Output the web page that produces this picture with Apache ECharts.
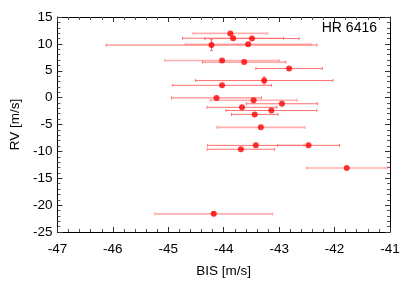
<!DOCTYPE html>
<html>
<head>
<meta charset="utf-8">
<script src="https://cdn.jsdelivr.net/npm/echarts@6/dist/echarts.min.js"></script>
<style>
html,body{margin:0;padding:0;background:#fff;}
#c{width:415px;height:283px;}
</style>
</head>
<body>
<div id="c"></div>
<script>
// Data set A (light pink error bars)
const bisA   = [-43.88, -43.56, -44.03, -43.46, -43.33, -41.78, -44.18];
const rvA    = [ 11.95,   9.91,   6.90,  -0.49,  -5.53, -13.10, -21.62];
const bisErrA= [  0.67,   1.13,   1.03,   0.78,   0.79,   0.72,   1.06];
const rvErrA = [  0,      0,      0,      0,      0,      0,      0.3 ];
// Data set B (salmon error bars)
const bisB   = [-43.83, -43.49, -44.22, -43.63, -42.82, -43.27, -44.03, -44.13, -42.95, -43.67, -43.14, -43.44, -43.42, -42.47, -43.69];
const rvB    = [ 11.05,  10.99,   9.78,   6.61,   5.41,   3.19,   2.29,  -0.05,  -1.14,  -1.80,  -2.40,  -3.12,  -8.88,  -8.88,  -9.60];
const bisErrB= [  0.91,   0.85,   1.90,   0.75,   0.60,   1.24,   0.89,   0.81,   0.64,   0.63,   0.82,   0.42,   0.87,   0.56,   0.61];
const rvErrB = [  0,      0,      1.0,    0,      0,      0.65,   0,      0,      0,      0,      0,      0,      0,      0,      0   ];
// Axis ticks
const xTicks = [-47, -46, -45, -44, -43, -42, -41];
const yTicks = [-25, -20, -15, -10, -5, 0, 5, 10, 15];
const label = 'HR 6416';

function rows(b, r, eb, er) {
  return b.map((v, i) => [v, r[i], eb[i], er[i]]);
}

function errRender(color, width) {
  return function (params, api) {
    const x = api.value(0), y = api.value(1), e = api.value(2), ey = api.value(3);
    const p1 = api.coord([x - e, y]);
    const p2 = api.coord([x + e, y]);
    const cap = 1.5;
    const style = { stroke: color, lineWidth: width };
    const ch = [
      { type: 'line', shape: { x1: p1[0], y1: p1[1], x2: p2[0], y2: p2[1] }, style },
      { type: 'line', shape: { x1: p1[0], y1: p1[1] - cap, x2: p1[0], y2: p1[1] + cap }, style },
      { type: 'line', shape: { x1: p2[0], y1: p2[1] - cap, x2: p2[0], y2: p2[1] + cap }, style }
    ];
    if (ey > 0) {
      const q1 = api.coord([x, y - ey]);
      const q2 = api.coord([x, y + ey]);
      ch.push({ type: 'line', shape: { x1: q1[0], y1: q1[1], x2: q2[0], y2: q2[1] }, style });
      ch.push({ type: 'line', shape: { x1: q1[0] - cap, y1: q1[1], x2: q1[0] + cap, y2: q1[1] }, style });
      ch.push({ type: 'line', shape: { x1: q2[0] - cap, y1: q2[1], x2: q2[0] + cap, y2: q2[1] }, style });
    }
    return { type: 'group', children: ch };
  };
}

const font = 'Liberation Sans, Arial, Helvetica, sans-serif';
const baseAxis = {
  type: 'value',
  axisLine: { show: true, onZero: false, lineStyle: { color: '#000', width: 1 } },
  axisTick: { show: true, inside: true, length: 5, lineStyle: { color: '#333' } },
  minorTick: { show: true, splitNumber: 5, length: 3, lineStyle: { color: '#555' } },
  splitLine: { show: false },
  minorSplitLine: { show: false }
};

const chart = echarts.init(document.getElementById('c'), null, { renderer: 'canvas' });
chart.setOption({
  animation: false,
  backgroundColor: '#fff',
  textStyle: { fontFamily: font },
  grid: { left: 57, right: 25, top: 17, bottom: 44.5 },
  xAxis: [
    Object.assign({}, baseAxis, {
      position: 'bottom', min: xTicks[0], max: xTicks[xTicks.length - 1], interval: 1,
      name: 'BIS [m/s]', nameLocation: 'middle', nameGap: 32,
      nameTextStyle: { fontSize: 13.5, color: '#000', fontFamily: font },
      axisLabel: { fontSize: 13.5, color: '#000', margin: 10, fontFamily: font }
    }),
    Object.assign({}, baseAxis, {
      position: 'top', min: xTicks[0], max: xTicks[xTicks.length - 1], interval: 1,
      axisLabel: { show: false }
    })
  ],
  yAxis: [
    Object.assign({}, baseAxis, {
      position: 'left', min: yTicks[0], max: yTicks[yTicks.length - 1], interval: 5,
      name: 'RV [m/s]', nameLocation: 'middle', nameGap: 35, nameRotate: 90,
      nameTextStyle: { fontSize: 13.5, color: '#000', fontFamily: font },
      axisLabel: { fontSize: 13.5, color: '#000', margin: 5, fontFamily: font }
    }),
    Object.assign({}, baseAxis, {
      position: 'right', min: yTicks[0], max: yTicks[yTicks.length - 1], interval: 5,
      axisLabel: { show: false }
    })
  ],
  graphic: [{
    type: 'text', right: 38, top: 21,
    style: { text: label, fontSize: 14, fill: '#000', fontFamily: font }
  }],
  series: [
    { type: 'custom', xAxisIndex: 0, yAxisIndex: 0, data: rows(bisA, rvA, bisErrA, rvErrA),
      renderItem: errRender('#ffb0b0', 1.6), z: 2 },
    { type: 'custom', xAxisIndex: 0, yAxisIndex: 0, data: rows(bisB, rvB, bisErrB, rvErrB),
      renderItem: errRender('#ff7070', 1), z: 3 },
    { type: 'scatter', xAxisIndex: 0, yAxisIndex: 0, symbol: 'circle', symbolSize: 6,
      itemStyle: { color: '#ff0000' }, z: 5,
      data: bisA.map((v, i) => [v, rvA[i]]).concat(bisB.map((v, i) => [v, rvB[i]])) }
  ]
});
</script>
</body>
</html>
